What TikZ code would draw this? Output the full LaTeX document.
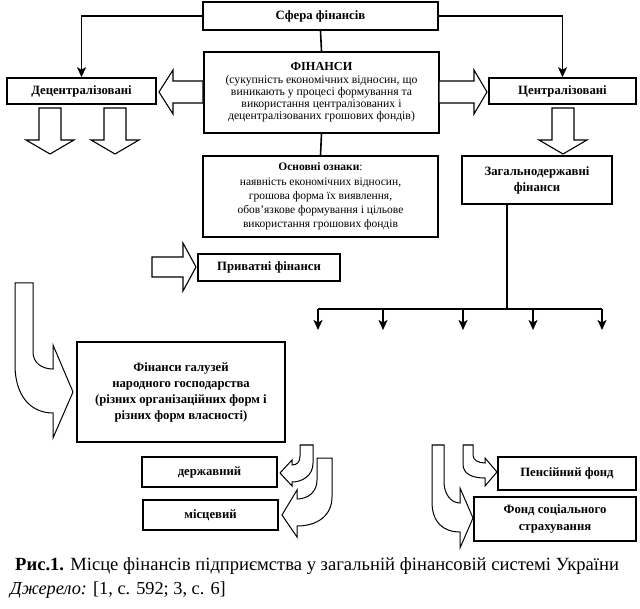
\documentclass[tikz,border=0pt]{standalone}
\usepackage{fontspec}
\setmainfont{Liberation Serif}
\usetikzlibrary{arrows.meta}
\begin{document}
\begin{tikzpicture}[x=1pt,y=-1pt,
  box/.style={draw,line width=1.6pt,inner sep=0pt,align=center},
  bt/.style={font=\fontsize{12.7}{16}\selectfont\bfseries},
  rt/.style={font=\fontsize{11.7}{12.3}\selectfont},
  conn/.style={line width=1.6pt},
  tip/.style={-{Stealth[length=10pt,width=9pt,inset=2.5pt]}},
  barrow/.style={draw,line width=1.1pt,fill=white,line join=miter},
  carrow/.style={draw,line width=1pt,fill=white,line join=miter}]
\useasboundingbox (0,0) rectangle (640,609);

% boxes
\node[box,bt,minimum width=235pt,minimum height=28pt] (sfera) at (320.5,16) {Сфера фінансів};
\node[box,rt,minimum width=235pt,minimum height=81pt] (fin) at (321.5,92.5)
  {{\fontsize{12.3}{12.3}\selectfont\bfseries ФІНАНСИ}\\(сукупність економічних відносин, що\\виникають у процесі формування та\\використання централізованих і\\децентралізованих грошових фондів)};
\node[box,bt,minimum width=149pt,minimum height=26pt] (dec) at (81.5,91) {Децентралізовані};
\node[box,bt,minimum width=147pt,minimum height=26pt] (cen) at (562.5,91) {Централізовані};
\node[box,font=\fontsize{11.5}{14.2}\selectfont,minimum width=235pt,minimum height=81pt] (ozn) at (320.5,196.5)
  {\textbf{Основні ознаки}:\\наявність економічних відносин,\\грошова форма їх виявлення,\\обов’язкове формування і цільове\\використання грошових фондів};
\node[box,bt,minimum width=150pt,minimum height=48pt] (zag) at (537,180) {Загальнодержавні\\фінанси};
\node[box,bt,minimum width=142pt,minimum height=27pt] (pryv) at (269,267.5) {Приватні фінанси};
\node[box,bt,minimum width=208pt,minimum height=100pt] (gal) at (181,392)
  {Фінанси галузей\\народного господарства\\(різних організаційних форм і\\різних форм власності)};
\node[box,bt,minimum width=135pt,minimum height=30pt] (derzh) at (209.5,472) {державний};
\node[box,bt,minimum width=135pt,minimum height=30pt] (misc) at (210.5,515) {місцевий};
\node[box,bt,minimum width=138pt,minimum height=33pt] (pens) at (567,473.5) {Пенсійний фонд};
\node[box,font=\fontsize{12.7}{17}\selectfont\bfseries,minimum width=162pt,minimum height=44pt] (fond) at (555,519) {Фонд соціального\\страхування};

% connectors
\draw[conn,tip] (sfera.west) -| (dec.north);
\draw[conn,tip] (sfera.east) -| (cen.north);
\draw[conn] (sfera.south) -- (fin.north);
\draw[conn] (fin.south) -- (ozn.north);
\coordinate (hub) at (507,309);
\draw[conn] (zag.south -| hub) -- (hub);
\coordinate (b1) at (318,309); \coordinate (e1) at (318,330);
\coordinate (b2) at (383,309); \coordinate (e2) at (383,330);
\coordinate (b3) at (463,309); \coordinate (e3) at (463,330);
\coordinate (b4) at (533,309); \coordinate (e4) at (533,330);
\coordinate (b5) at (602,309); \coordinate (e5) at (602,330);
\draw[conn] (b1) -- (b5);
\foreach \i in {1,...,5} {\draw[conn,tip] (b\i) -- (e\i);}

% straight block arrows
\path[barrow] (203,81) -- (173,81) -- (173,70) -- (159,92) -- (173,114) -- (173,103) -- (203,103) -- cycle;
\path[barrow] (439,81) -- (474,81) -- (474,70) -- (487,92) -- (474,114) -- (474,103) -- (439,103) -- cycle;
\foreach \cx in {50,115,563} {
  \path[barrow] (\cx-11,108) -- (\cx+11,108) -- (\cx+11,140) -- (\cx+24,140) -- (\cx,154) -- (\cx-24,140) -- (\cx-11,140) -- cycle;
}
\path[barrow] (152,257) -- (183,257) -- (183,243) -- (196,267) -- (183,291) -- (183,277) -- (152,277) -- cycle;

% curved block arrows
\path[carrow] (15,283) -- (33,283) -- (33,352) .. controls (33,363) and (42,369) .. (53,369)
  -- (53,345) -- (73,392) -- (53,438) -- (53,413) .. controls (30,413) and (15,395) .. (15,365) -- cycle;
\path[carrow] (317,458) -- (332,458) -- (332,497) .. controls (332,515) and (318,526) .. (297,526)
  -- (297,537) -- (282,515) -- (297,490) -- (297,499) .. controls (308,499) and (317,492) .. (317,480) -- cycle;
\path[carrow] (300,445) -- (313,445) -- (313,463) .. controls (313,476) and (302,482) .. (292,482)
  -- (292,486) -- (280,473) -- (292,460) -- (292,465) .. controls (297,465) and (300,462) .. (300,456) -- cycle;
\path[carrow] (463,445) -- (473,445) -- (473,455) .. controls (473,460) and (478,463) .. (485,463)
  -- (485,458) -- (497,472) -- (485,486) -- (485,478) .. controls (472,478) and (463,474) .. (463,464) -- cycle;
\path[carrow] (432,445) -- (444,445) -- (444,482) .. controls (444,494) and (451,503) .. (460,503)
  -- (460,488) -- (473,518) -- (460,548) -- (460,532) .. controls (443,532) and (432,522) .. (432,502) -- cycle;

% caption
\node[anchor=base west,inner sep=0pt,font=\fontsize{18.6}{21}\selectfont] (cap) at (15,570)
  {\textbf{Рис.1.} Місце фінансів підприємства у загальній фінансовій системі України};
\node[anchor=base west,inner sep=0pt,font=\fontsize{18.3}{21}\selectfont] (src) at (10,594)
  {\textit{Джерело:} [1, с. 592; 3, с. 6]};
\end{tikzpicture}
\end{document}
